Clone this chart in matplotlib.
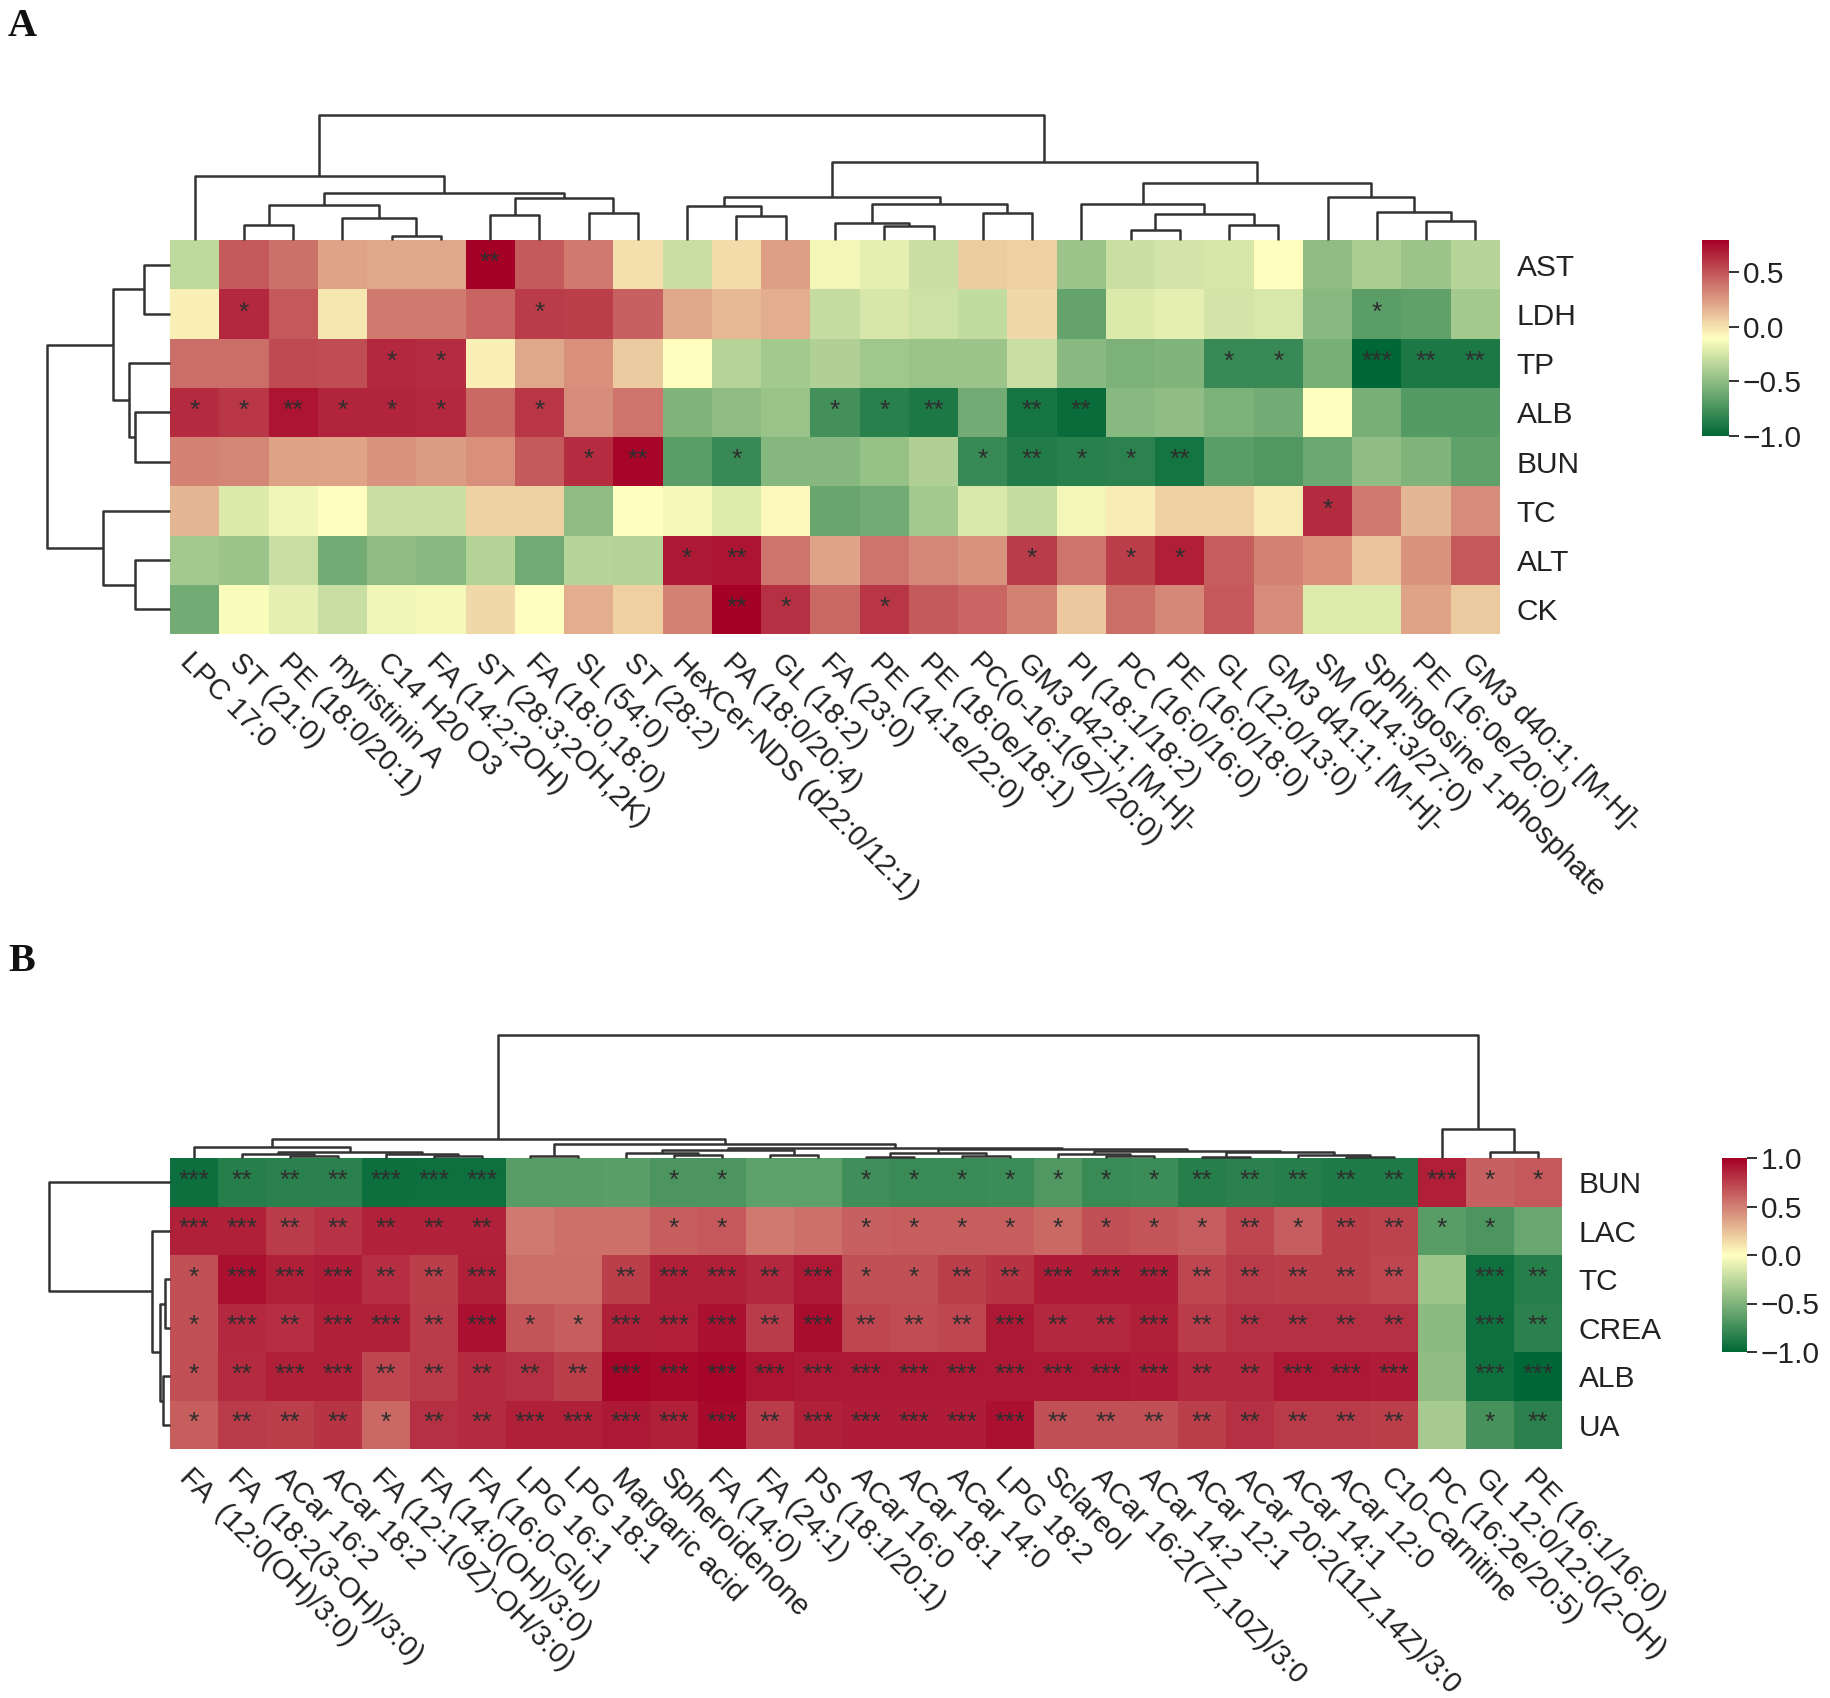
import numpy as np
import matplotlib
matplotlib.use("Agg")
import matplotlib.pyplot as plt
from matplotlib.colors import LinearSegmentedColormap, Normalize
from matplotlib.colorbar import ColorbarBase

plt.rcParams['font.family'] = ['Liberation Sans', 'DejaVu Sans']

# ---------------- Panel A data ----------------
a_rows = ["AST", "LDH", "TP", "ALB", "BUN", "TC", "ALT", "CK"]
a_cols = ["LPC 17:0", "ST (21:0)", "PE (18:0/20:1)", "myristinin A", "C14 H20 O3",
          "FA (14:2;2OH)", "ST (28:3;2OH,2K)", "FA (18:0,18:0)", "SL (54:0)", "ST (28:2)",
          "HexCer-NDS (d22:0/12:1)", "PA (18:0/20:4)", "GL (18:2)", "FA (23:0)",
          "PE (14:1e/22:0)", "PE (18:0e/18:1)", "PC(o-16:1(9Z)/20:0)", "GM3 d42:1; [M-H]-",
          "PI (18:1/18:2)", "PC (16:0/16:0)", "PE (16:0/18:0)", "GL (12:0/13:0)",
          "GM3 d41:1; [M-H]-", "SM (d14:3/27:0)", "Sphingosine 1-phosphate",
          "PE (16:0e/20:0)", "GM3 d40:1; [M-H]-"]

a_ast = [-0.33, 0.47, 0.39, 0.21, 0.20, 0.20, 0.79, 0.47, 0.36, 0.00, -0.30, 0.02, 0.23, -0.15,
         -0.20, -0.30, 0.07, 0.06, -0.45, -0.29, -0.26, -0.25, -0.10, -0.50, -0.40, -0.45, -0.35]
a_ldh = [-0.05, 0.65, 0.48, -0.02, 0.36, 0.36, 0.44, 0.58, 0.57, 0.45, 0.20, 0.14, 0.18, -0.31,
         -0.25, -0.28, -0.32, 0.03, -0.65, -0.23, -0.20, -0.26, -0.24, -0.52, -0.68, -0.66, -0.42]
a_tp = [0.40, 0.40, 0.53, 0.52, 0.65, 0.63, -0.05, 0.20, 0.28, 0.08, -0.10, -0.36, -0.42, -0.38,
        -0.44, -0.46, -0.45, -0.30, -0.52, -0.56, -0.55, -0.80, -0.80, -0.58, -1.00, -0.90, -0.90]
a_alb = [0.64, 0.60, 0.72, 0.66, 0.66, 0.65, 0.42, 0.60, 0.30, 0.38, -0.55, -0.50, -0.46, -0.76,
         -0.86, -0.90, -0.60, -0.92, -0.97, -0.52, -0.49, -0.56, -0.60, -0.10, -0.58, -0.70, -0.70]
a_bun = [0.33, 0.32, 0.22, 0.21, 0.27, 0.24, 0.28, 0.47, 0.63, 0.77, -0.68, -0.80, -0.53, -0.53,
         -0.47, -0.38, -0.80, -0.88, -0.86, -0.84, -0.93, -0.68, -0.72, -0.62, -0.49, -0.55, -0.66]
a_tc = [0.15, -0.23, -0.16, -0.10, -0.29, -0.29, 0.05, 0.05, -0.50, -0.10, -0.14, -0.22, -0.08, -0.63,
        -0.60, -0.42, -0.24, -0.31, -0.15, -0.04, 0.06, 0.06, -0.04, 0.64, 0.36, 0.15, 0.30]
a_alt = [-0.42, -0.45, -0.30, -0.60, -0.50, -0.52, -0.37, -0.60, -0.35, -0.37, 0.70, 0.72, 0.38, 0.21,
         0.38, 0.31, 0.27, 0.58, 0.38, 0.57, 0.68, 0.46, 0.33, 0.28, 0.10, 0.27, 0.48]
a_ck = [-0.60, -0.12, -0.20, -0.30, -0.16, -0.14, 0.03, -0.10, 0.18, 0.06, 0.33, 0.79, 0.62, 0.42,
        0.60, 0.47, 0.43, 0.33, 0.09, 0.40, 0.31, 0.48, 0.30, -0.22, -0.22, 0.21, 0.08]

sa_ast = ["", "", "", "", "", "", "**", "", "", "", "", "", "", "", "", "", "", "", "", "", "", "", "", "", "", "", ""]
sa_ldh = ["", "*", "", "", "", "", "", "*", "", "", "", "", "", "", "", "", "", "", "", "", "", "", "", "", "*", "", ""]
sa_tp = ["", "", "", "", "*", "*", "", "", "", "", "", "", "", "", "", "", "", "", "", "", "", "*", "*", "", "***", "**", "**"]
sa_alb = ["*", "*", "**", "*", "*", "*", "", "*", "", "", "", "", "", "*", "*", "**", "", "**", "**", "", "", "", "", "", "", "", ""]
sa_bun = ["", "", "", "", "", "", "", "", "*", "**", "", "*", "", "", "", "", "*", "**", "*", "*", "**", "", "", "", "", "", ""]
sa_tc = ["", "", "", "", "", "", "", "", "", "", "", "", "", "", "", "", "", "", "", "", "", "", "", "*", "", "", ""]
sa_alt = ["", "", "", "", "", "", "", "", "", "", "*", "**", "", "", "", "", "", "*", "", "*", "*", "", "", "", "", "", ""]
sa_ck = ["", "", "", "", "", "", "", "", "", "", "", "**", "*", "", "*", "", "", "", "", "", "", "", "", "", "", "", ""]

# dendrograms: (left, right, height); leaves are display indices
a_col_tree = (
    (0, (((1, 2, 0.12), (3, (4, 5, 0.032), 0.173), 0.277),
         ((6, 7, 0.20), (8, 9, 0.213), 0.333), 0.379), 0.512),
    (((10, (11, 12, 0.195), 0.272),
      ((13, (14, 15, 0.112), 0.133), (16, 17, 0.213), 0.288), 0.341),
     ((18, ((19, 20, 0.08), (21, 22, 0.12), 0.205), 0.288),
      (23, (24, (25, 26, 0.155), 0.227), 0.347), 0.453), 0.627),
    1.0)
a_row_tree = (((0, 1, 0.21), (2, (3, 4, 0.286), 0.333), 0.467),
              (5, (6, 7, 0.286), 0.543), 1.0)

# ---------------- Panel B data ----------------
b_rows = ["BUN", "LAC", "TC", "CREA", "ALB", "UA"]
b_cols = ["FA  (12:0(OH)/3:0)", "FA  (18:2(3-OH)/3:0)", "ACar 16:2", "ACar 18:2",
          "FA (12:1(9Z)-OH/3:0)", "FA (14:0(OH)/3:0)", "FA (16:0-Glu)", "LPG 16:1", "LPG 18:1",
          "Margaric acid", "Spheroidenone", "FA (14:0)", "FA (24:1)", "PS (18:1/20:1)",
          "ACar 16:0", "ACar 18:1", "ACar 14:0", "LPG 18:2", "Sclareol",
          "ACar 16:2(7Z,10Z)/3:0", "ACar 14:2", "ACar 12:1", "ACar 20:2(11Z,14Z)/3:0",
          "ACar 14:1", "ACar 12:0", "C10-Carnitine", "PC (16:2e/20:5)",
          "GL 12:0/12:0(2-OH)", "PE (16:1/16:0)"]

b_bun = [-0.95, -0.85, -0.83, -0.83, -0.95, -0.94, -0.94, -0.65, -0.65, -0.64, -0.70, -0.70, -0.63, -0.63,
         -0.75, -0.77, -0.77, -0.76, -0.68, -0.77, -0.76, -0.85, -0.83, -0.85, -0.88, -0.88, 0.88, 0.62, 0.65]
b_lac = [0.87, 0.87, 0.76, 0.80, 0.86, 0.86, 0.86, 0.52, 0.56, 0.56, 0.63, 0.65, 0.52, 0.56,
         0.62, 0.63, 0.63, 0.63, 0.59, 0.68, 0.67, 0.64, 0.72, 0.64, 0.75, 0.74, -0.65, -0.70, -0.58]
b_tc = [0.68, 0.93, 0.87, 0.89, 0.82, 0.75, 0.87, 0.57, 0.57, 0.75, 0.87, 0.87, 0.84, 0.90,
        0.68, 0.68, 0.75, 0.79, 0.89, 0.89, 0.89, 0.72, 0.77, 0.75, 0.75, 0.72, -0.38, -0.94, -0.85]
b_crea = [0.68, 0.84, 0.82, 0.87, 0.87, 0.76, 0.93, 0.67, 0.63, 0.87, 0.88, 0.93, 0.76, 0.95,
          0.72, 0.70, 0.72, 0.90, 0.84, 0.84, 0.87, 0.76, 0.81, 0.81, 0.81, 0.81, -0.45, -0.94, -0.83]
b_alb = [0.68, 0.83, 0.87, 0.87, 0.72, 0.77, 0.83, 0.81, 0.75, 0.98, 0.96, 0.98, 0.92, 0.90,
         0.90, 0.90, 0.90, 0.90, 0.90, 0.90, 0.89, 0.84, 0.84, 0.90, 0.90, 0.89, -0.43, -0.94, -1.00]
b_ua = [0.63, 0.77, 0.75, 0.79, 0.59, 0.81, 0.83, 0.87, 0.87, 0.90, 0.87, 0.96, 0.76, 0.87,
        0.89, 0.89, 0.89, 0.93, 0.68, 0.68, 0.68, 0.75, 0.81, 0.77, 0.77, 0.75, -0.35, -0.72, -0.83]

sb_bun = ["***", "**", "**", "**", "***", "***", "***", "", "", "", "*", "*", "", "", "*", "*", "*", "*", "*",
          "*", "*", "**", "**", "**", "**", "**", "***", "*", "*"]
sb_lac = ["***", "***", "**", "**", "**", "**", "**", "", "", "", "*", "*", "", "", "*", "*", "*", "*", "*",
          "*", "*", "*", "**", "*", "**", "**", "*", "*", ""]
sb_tc = ["*", "***", "***", "***", "**", "**", "***", "", "", "**", "***", "***", "**", "***", "*", "*", "**",
         "**", "***", "***", "***", "**", "**", "**", "**", "**", "", "***", "**"]
sb_crea = ["*", "***", "**", "***", "***", "**", "***", "*", "*", "***", "***", "***", "**", "***", "**", "**",
           "**", "***", "**", "**", "***", "**", "**", "**", "**", "**", "", "***", "**"]
sb_alb = ["*", "**", "***", "***", "**", "**", "**", "**", "**", "***", "***", "***", "***", "***", "***",
          "***", "***", "***", "***", "***", "***", "**", "**", "***", "***", "***", "", "***", "***"]
sb_ua = ["*", "**", "**", "**", "*", "**", "**", "***", "***", "***", "***", "***", "**", "***", "***", "***",
         "***", "***", "**", "**", "**", "**", "**", "**", "**", "**", "", "*", "**"]

b_col_tree = (
    ((0, ((1, (2, 3, 0.015), 0.03), (4, (5, 6, 0.015), 0.035), 0.05), 0.088),
     ((7, 8, 0.014),
      (((9, (10, 11, 0.022), 0.041), (12, 13, 0.028), 0.061),
       (((14, 15, 0.012), (16, 17, 0.015), 0.04),
        ((18, (19, 20, 0.015), 0.03),
         ((21, 22, 0.012), (23, (24, 25, 0.012), 0.025), 0.045), 0.06), 0.075), 0.085), 0.11), 0.152),
    (26, (27, 28, 0.047), 0.235),
    1.0)
b_row_tree = (0, (1, ((2, 3, 0.044), (4, 5, 0.058), 0.083), 0.147), 1.0)

# ---------------- drawing ----------------
W, H = 1831, 1698
fig = plt.figure(figsize=(W / 100, H / 100), dpi=100)
cmap = LinearSegmentedColormap.from_list("gyr", ["#006837", "#FFFFBF", "#A50026"])
TXT = "#222222"
FS = 21
LINE = "#333333"


def px_axes(x0, y0, x1, y1):
    return fig.add_axes([x0 / W, 1 - y1 / H, (x1 - x0) / W, (y1 - y0) / H])


def tree_segments(node, segs):
    if isinstance(node, int):
        return node + 0.5, 0.0
    left, right, h = node
    pl, hl = tree_segments(left, segs)
    pr, hr = tree_segments(right, segs)
    segs.append(([pl, pl, pr, pr], [hl, h, h, hr]))
    return (pl + pr) / 2, h


def draw_dendro(ax, tree, n, orient):
    segs = []
    tree_segments(tree, segs)
    for pos, hts in segs:
        if orient == "top":
            ax.plot(pos, hts, color=LINE, lw=1.8, clip_on=False, solid_capstyle="butt")
        else:
            ax.plot(hts, pos, color=LINE, lw=1.8, clip_on=False, solid_capstyle="butt")
    if orient == "top":
        ax.set_xlim(0, n)
        ax.set_ylim(0, 1.0)
    else:
        ax.set_xlim(1.0, 0)
        ax.set_ylim(n, 0)
    ax.axis("off")


def panel(values, stars, rows, cols, col_tree, row_tree, hm, cb, dtop, dleft, vmin, vmax, cticks):
    x0, y0, x1, y1 = hm
    data = np.array(values)
    nr, nc = data.shape
    norm = Normalize(vmin=vmin, vmax=vmax)
    ax = px_axes(x0, y0, x1, y1)
    ax.pcolormesh(np.arange(nc + 1), np.arange(nr + 1), data, cmap=cmap, norm=norm,
                  shading="flat", edgecolors="none")
    ax.set_xlim(0, nc)
    ax.set_ylim(nr, 0)
    for sp in ax.spines.values():
        sp.set_visible(False)
    for i in range(nr):
        for j in range(nc):
            if stars[i][j]:
                ax.text(j + 0.5, i + 0.47, stars[i][j], ha="center", va="center",
                        fontsize=19, color="#2e2e2e")
    ax.set_yticks(np.arange(nr) + 0.5)
    ax.set_yticklabels(rows, fontsize=FS + 0.5, color=TXT)
    ax.yaxis.tick_right()
    ax.tick_params(axis="y", length=0, pad=12)
    ax.set_xticks(np.arange(nc) + 0.5)
    ax.set_xticklabels(cols, fontsize=FS, color=TXT, rotation=-45, ha="left",
                       va="top", rotation_mode="anchor")
    ax.tick_params(axis="x", length=0, pad=10)

    axt = px_axes(x0, dtop, x1, y0)
    draw_dendro(axt, col_tree, nc, "top")
    axl = px_axes(dleft, y0, x0, y1)
    draw_dendro(axl, row_tree, nr, "left")

    cax = px_axes(*cb)
    cbar = ColorbarBase(cax, cmap=cmap, norm=norm, orientation="vertical", ticks=cticks)
    cbar.outline.set_visible(False)
    cbar.set_ticklabels([f"{t:.1f}".replace("-", "\u2212") for t in cticks])
    cax.tick_params(length=7, width=1.3, color=TXT, labelsize=FS + 0.5, labelcolor=TXT, pad=3)


panel([a_ast, a_ldh, a_tp, a_alb, a_bun, a_tc, a_alt, a_ck],
      [sa_ast, sa_ldh, sa_tp, sa_alb, sa_bun, sa_tc, sa_alt, sa_ck],
      a_rows, a_cols, a_col_tree, a_row_tree,
      hm=(170, 240, 1500, 634), cb=(1702, 240, 1729, 436), dtop=115, dleft=47,
      vmin=-1.0, vmax=0.79, cticks=[-1.0, -0.5, 0.0, 0.5])

panel([b_bun, b_lac, b_tc, b_crea, b_alb, b_ua],
      [sb_bun, sb_lac, sb_tc, sb_crea, sb_alb, sb_ua],
      b_rows, b_cols, b_col_tree, b_row_tree,
      hm=(170, 1158, 1562, 1449), cb=(1722, 1158, 1747, 1352), dtop=1035, dleft=49,
      vmin=-1.0, vmax=1.0, cticks=[-1.0, -0.5, 0.0, 0.5, 1.0])

fig.text(8 / W, 1 - 8 / H, "A", fontsize=29, fontweight="bold", family="Liberation Serif",
         ha="left", va="top", color="#111111")
fig.text(8 / W, 1 - 943 / H, "B", fontsize=29, fontweight="bold", family="Liberation Serif",
         ha="left", va="top", color="#111111")

fig.savefig("out.png", dpi=100, facecolor="white")
